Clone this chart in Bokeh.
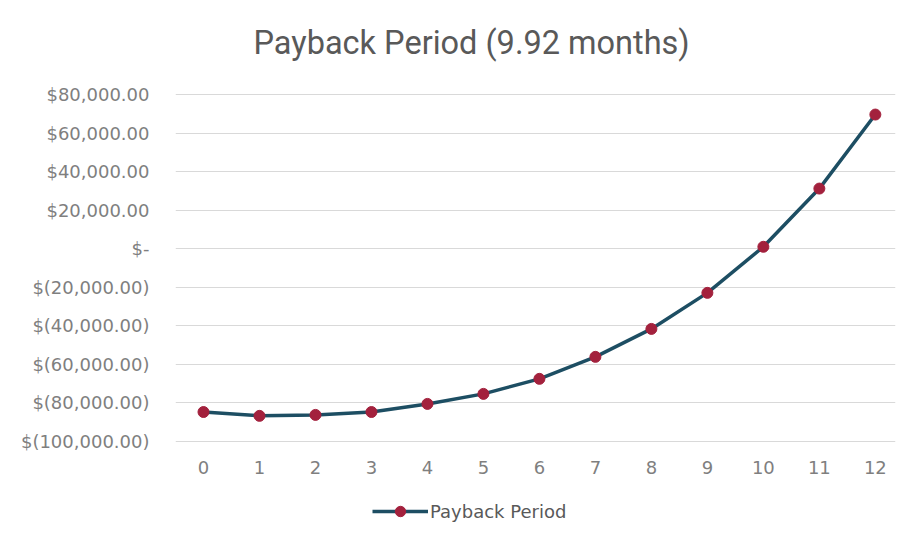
from bokeh.plotting import figure
from bokeh.models import (Range1d, FixedTicker, Legend, LegendItem, LabelSet,
                          ColumnDataSource)
from bokeh.core.properties import value
from bokeh.embed import file_html
from bokeh.resources import INLINE

# ---- data ----
months = list(range(13))
payback = [-84700, -86700, -86200, -84700, -80500, -75300, -67500,
           -56100, -41600, -22900, 1000, 31200, 69600]
x_tick_labels = [str(m) for m in months]
y_ticks = [-100000, -80000, -60000, -40000, -20000, 0, 20000, 40000, 60000, 80000]
y_tick_labels = ["$(100,000.00)", "$(80,000.00)", "$(60,000.00)", "$(40,000.00)",
                 "$(20,000.00)", "$-", "$20,000.00", "$40,000.00", "$60,000.00",
                 "$80,000.00"]
title_text = "Payback Period (9.92 months)"
series_name = "Payback Period"

TITLE_FONT = "Roboto"
FONT = "DejaVu Sans"
LINE_COLOR = "#1d4e63"
MARK_COLOR = "#a3213d"

# vertical layout: frame from y=82 to y=524; value axis spans 94..441 (347 px)
Y_MIN, Y_MAX = y_ticks[0], y_ticks[-1]
PX = (Y_MAX - Y_MIN) / 347.0
y_lo = Y_MIN - 83 * PX
y_hi = Y_MAX + 12 * PX

p = figure(width=896, height=524, output_backend="svg", toolbar_location=None,
           x_range=Range1d(-0.5, 12.36), y_range=Range1d(y_lo, y_hi),
           x_axis_location=None,
           min_border_left=175, min_border_right=1, min_border_top=82,
           min_border_bottom=0)

p.outline_line_color = None
p.background_fill_color = "white"
p.border_fill_color = "white"

p.title.text = title_text
p.title.align = "left"
p.title.offset = 78
p.title.standoff = 42
p.title.text_font = TITLE_FONT
p.title.text_font_size = "32.5px"
p.title.text_font_style = "normal"
p.title.text_color = "#595959"

# value axis
p.yaxis.ticker = FixedTicker(ticks=y_ticks)
p.yaxis.major_label_overrides = {t: l for t, l in zip(y_ticks, y_tick_labels)}
p.yaxis.axis_line_color = None
p.yaxis.major_tick_line_color = None
p.yaxis.minor_tick_line_color = None
p.yaxis.major_tick_out = 0
p.yaxis.major_tick_in = 0
p.yaxis.minor_tick_out = 0
p.yaxis.major_label_text_font = FONT
p.yaxis.major_label_text_font_size = "18px"
p.yaxis.major_label_text_color = "#7f7f7f"
p.yaxis.major_label_standoff = 26

p.xgrid.grid_line_color = None
p.ygrid.ticker = FixedTicker(ticks=y_ticks)
p.ygrid.grid_line_color = "#d9d9d9"
p.ygrid.grid_line_width = 1

# category labels under the value axis bottom
lab_src = ColumnDataSource(dict(x=months, y=[Y_MIN] * len(months), t=x_tick_labels))
p.add_layout(LabelSet(x="x", y="y", text="t", source=lab_src, y_offset=-19,
                      text_align="center", text_baseline="top",
                      text_font=value(FONT), text_font_size=value("18px"),
                      text_color="#7f7f7f"))

line_r = p.line(months, payback, line_color=LINE_COLOR, line_width=3.5)
mark_r = p.scatter(months, payback, size=11, fill_color=MARK_COLOR,
                   line_color=MARK_COLOR)

legend = Legend(items=[LegendItem(label=series_name, renderers=[line_r, mark_r])],
                location=(197, 0), orientation="horizontal",
                glyph_width=56, glyph_height=26, label_standoff=2,
                padding=0, margin=0, spacing=0,
                border_line_color=None, background_fill_alpha=0,
                label_text_font=FONT, label_text_font_size="18px",
                label_text_color="#595959")
p.add_layout(legend, "center")

open("out.html", "w").write(file_html(p, INLINE))
